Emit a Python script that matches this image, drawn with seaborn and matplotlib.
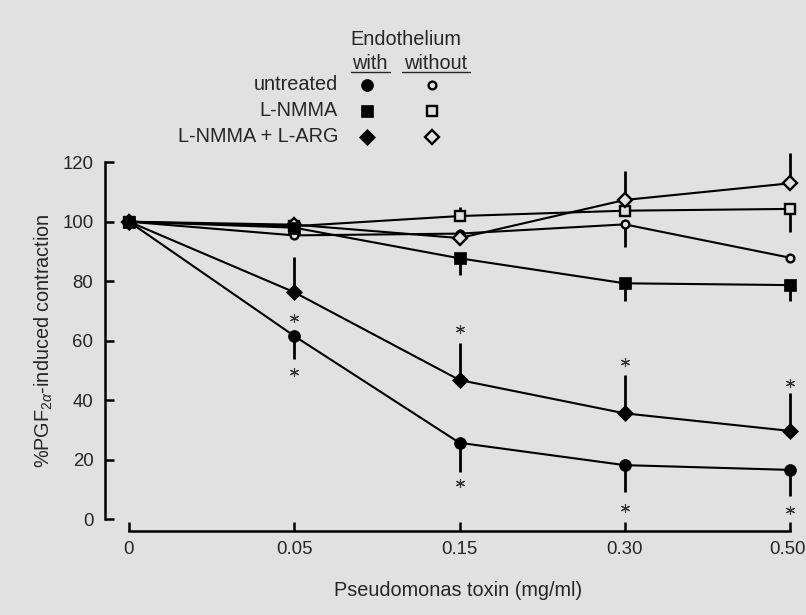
import matplotlib
matplotlib.use("Agg")
import matplotlib.pyplot as plt
import matplotlib.transforms as mtransforms
import numpy as np
import pandas as pd
import seaborn as sns

# ---------------- data ----------------
doses = ["0", "0.05", "0.15", "0.30", "0.50"]

untreated_with = [100, 61.6, 25.7, 18.2, 16.6]
untreated_with_err_lo = [0, 7.8, 9.7, 8.9, 8.7]
untreated_with_err_hi = [0, 0, 0, 0, 0]

lnmma_with = [100, 98.0, 87.7, 79.3, 78.7]
lnmma_with_err_lo = [0, 0, 5.6, 5.8, 5.3]
lnmma_with_err_hi = [0, 0, 0, 0, 0]

larg_with = [100, 76.3, 46.8, 35.6, 29.7]
larg_with_err_lo = [0, 0, 0, 0, 0]
larg_with_err_hi = [0, 11.9, 12.5, 12.9, 12.6]

untreated_without = [100, 95.4, 96.0, 99.1, 87.9]
untreated_without_err_lo = [0, 0, 0, 7.7, 0]
untreated_without_err_hi = [0, 0, 0, 0, 0]

lnmma_without = [100, 98.5, 101.9, 103.7, 104.3]
lnmma_without_err_lo = [0, 0, 0, 0, 7.7]
lnmma_without_err_hi = [0, 0, 3.1, 0, 0]

larg_without = [100, 99.0, 94.5, 107.3, 112.9]
larg_without_err_lo = [0, 0, 0, 0, 0]
larg_without_err_hi = [0, 0, 0, 9.8, 10.3]

# significance stars (dose, value)
star_doses = ["0.05", "0.05", "0.15", "0.15", "0.30", "0.30", "0.50", "0.50"]
star_values = [67.7, 49.6, 63.8, 12.1, 53.0, 3.9, 45.9, 3.1]

treatments = ["untreated", "L-NMMA", "L-NMMA + L-ARG"]

# ---------------- style ----------------
BG = "#e1e1e1"
TXT = "#262626"
FS = 14.3
TFS = 13.4
sns.set_theme(style="ticks")
plt.rcParams["font.family"] = ["Liberation Sans", "DejaVu Sans"]
plt.rcParams["mathtext.fontset"] = "custom"
plt.rcParams["mathtext.rm"] = "Liberation Sans"
plt.rcParams["mathtext.it"] = "Liberation Sans:italic"

pos = {d: i for i, d in enumerate(doses)}

series = [
    # name, values, lo, hi, marker, ms, filled
    ("lnmma_without", lnmma_without, lnmma_without_err_lo, lnmma_without_err_hi, "s", 6.6, False),
    ("untreated_without", untreated_without, untreated_without_err_lo, untreated_without_err_hi, "o", 5.6, False),
    ("larg_without", larg_without, larg_without_err_lo, larg_without_err_hi, "D", 6.9, False),
    ("lnmma_with", lnmma_with, lnmma_with_err_lo, lnmma_with_err_hi, "s", 8.6, True),
    ("larg_with", larg_with, larg_with_err_lo, larg_with_err_hi, "D", 8.4, True),
    ("untreated_with", untreated_with, untreated_with_err_lo, untreated_with_err_hi, "o", 8.6, True),
]

fig = plt.figure(figsize=(8.06, 6.15), dpi=100, facecolor=BG)

# axes geometry (pixels): left spine x=104.5, y data 0 at 519.3 px, 2.976 px / unit
ax_left, ax_right = 104.5, 800.0
y0_px, px_per_unit = 519.3, 2.976
ytop_val = 126
ax_top = y0_px - ytop_val * px_per_unit
ax = fig.add_axes([ax_left / 806, (615 - y0_px) / 615,
                   (ax_right - ax_left) / 806, (y0_px - ax_top) / 615])
ax.set_facecolor(BG)

x_unit = (790.0 - 129.0) / 4
ax.set_xlim(-(129.0 - ax_left) / x_unit, 4 + (ax_right - 790.0) / x_unit)
ax.set_ylim(0, ytop_val)

for k, (name, vals, lo, hi, mk, ms, filled) in enumerate(series):
    df = pd.DataFrame({"x": [pos[d] for d in doses], "y": vals})
    # error bars (one-sided)
    ax.errorbar(df["x"], df["y"], yerr=[lo, hi], fmt="none", ecolor="black",
                elinewidth=2.0, capsize=0, zorder=2 + k * 0.1)
    sns.lineplot(data=df, x="x", y="y", ax=ax, color="black", lw=1.5,
                 marker=mk, markersize=ms,
                 markerfacecolor="black" if filled else BG,
                 markeredgecolor="black",
                 markeredgewidth=0.5 if filled else 1.7,
                 estimator=None, errorbar=None, sort=False,
                 zorder=3 + k * 0.1, clip_on=False)

# stars
ax.plot([pos[d] for d in star_doses], star_values, linestyle="none",
        marker=(6, 2, 0), markersize=6.5, markeredgewidth=0.8,
        color="#333333", zorder=5)

# axes styling
sns.despine(ax=ax)
ax.spines["bottom"].set_position(("outward", 8.4))
ax.spines["left"].set_bounds(0, 120)
ax.spines["bottom"].set_bounds(0, 4)
for s in ("left", "bottom"):
    ax.spines[s].set_linewidth(1.8)
    ax.spines[s].set_color("black")

ax.set_yticks(np.arange(0, 121, 20))
ax.set_xticks(range(len(doses)))
ax.set_xticklabels(doses)
ax.tick_params(axis="both", direction="in", length=6.5, width=1.8,
               colors="black", labelcolor=TXT, labelsize=TFS)
ax.tick_params(axis="y", pad=8)
ax.tick_params(axis="x", pad=7)
ax.set_xlabel("")
ax.set_ylabel("")

# keep the last tick label inside the figure edge
last_lab = ax.get_xticklabels()[-1]
last_lab.set_transform(last_lab.get_transform() +
                       mtransforms.ScaledTranslation(-3 / 100, 0, fig.dpi_scale_trans))

fig.text(44 / 806, 1 - 340.7 / 615, r"%PGF$_{2\alpha}$-induced contraction",
         rotation=90, ha="center", va="center", fontsize=FS, color=TXT)
fig.text(458.6 / 806, 1 - 591 / 615, "Pseudomonas toxin (mg/ml)",
         ha="center", va="center", fontsize=FS, color=TXT)

# ---------------- legend (overlay in pixel coords) ----------------
lax = fig.add_axes([0, 0, 1, 1], facecolor="none")
lax.set_xlim(0, 806)
lax.set_ylim(615, 0)
lax.axis("off")

lax.text(406, 39.5, "Endothelium", ha="center", va="center", fontsize=FS, color=TXT)
lax.text(370, 63.5, "with", ha="center", va="center", fontsize=FS, color=TXT)
lax.text(436, 63.5, "without", ha="center", va="center", fontsize=FS, color=TXT)
lax.plot([351, 389.5], [72, 72], color=TXT, lw=1.0)
lax.plot([401.5, 470], [72, 72], color=TXT, lw=1.0)

row_y = [84.5, 110.5, 137]
leg_with = [("o", 8.6), ("s", 8.6), ("D", 8.4)]
leg_without = [("o", 5.6), ("s", 6.6), ("D", 6.9)]
for ry, lab, (m1, s1), (m2, s2) in zip(row_y, treatments, leg_with, leg_without):
    lax.text(338, ry, lab, ha="right", va="center", fontsize=FS, color=TXT)
    lax.plot([367], [ry], marker=m1, markersize=s1, color="black",
             markeredgewidth=0.5, linestyle="none")
    lax.plot([432], [ry], marker=m2, markersize=s2, markerfacecolor=BG,
             markeredgecolor="black", markeredgewidth=1.7, linestyle="none")

fig.savefig("out.png", dpi=100, facecolor=BG)
